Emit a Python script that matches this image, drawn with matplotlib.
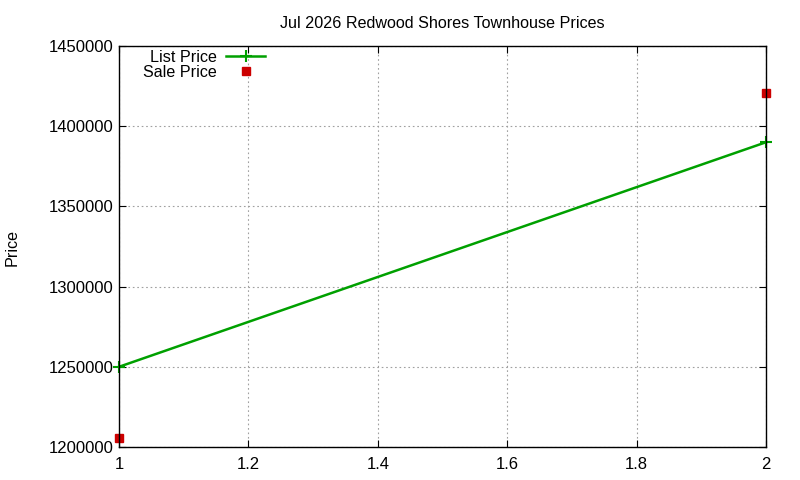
import matplotlib.pyplot as plt

# === Data ===
list_x = [1, 2]
list_price = [1250000, 1390000]
sale_x = [1, 2]
sale_price = [1205500, 1421000]

plt.rcParams['font.family'] = ['Liberation Sans', 'DejaVu Sans']

fig = plt.figure(figsize=(8, 4.8), dpi=100)
ax = fig.add_axes([119 / 800, 1 - 447 / 480, (766 - 119) / 800, (447 - 46) / 480])

ax.plot(list_x, list_price, color='#00a000', linewidth=1.8, marker='+',
        markersize=8, markeredgewidth=1.5, label='List Price', clip_on=False)
ax.plot(sale_x, sale_price, linestyle='none', color='#cc0000', marker='s',
        markersize=6, label='Sale Price', clip_on=False)

ax.set_xlim(1, 2)
ax.set_ylim(1200000, 1450000)
ax.set_xticks([1, 1.2, 1.4, 1.6, 1.8, 2])
ax.set_xticklabels(['1', '1.2', '1.4', '1.6', '1.8', '2'])
ax.set_yticks(range(1200000, 1450001, 50000))
ax.set_yticklabels([str(v) for v in range(1200000, 1450001, 50000)])

ax.grid(True, color='#a0a0a0', linestyle=(0, (1.5, 2.5)), linewidth=0.8)
ax.tick_params(direction='in', top=True, right=True, labelsize=12, length=5, pad=4)
ax.tick_params(axis='x', pad=7)
for s in ax.spines.values():
    s.set_linewidth(1.0)

ax.set_title('Jul 2026 Redwood Shores Townhouse Prices', fontsize=11.6, pad=13)
fig.text(12 / 800, 1 - 247 / 480, 'Price', rotation=90, fontsize=11.6,
         ha='center', va='center')

ax.legend(loc='upper left', bbox_to_anchor=(0.022, 1.015), markerfirst=False,
          frameon=False, fontsize=11.6, handlelength=2.4, handletextpad=0.6,
          labelspacing=0.0, borderaxespad=0.2)

fig.savefig('out.png', dpi=100)
